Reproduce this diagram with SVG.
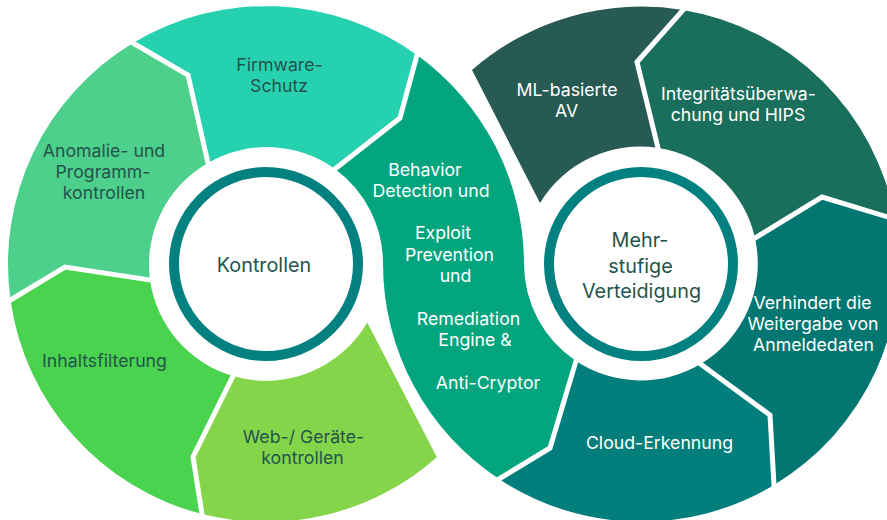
<svg xmlns="http://www.w3.org/2000/svg" width="887" height="520" viewBox="0 0 887 520">
  <style>
    .lbl { font-family: Inter, "Noto Sans", "Liberation Sans", sans-serif; font-size: 17.7px; text-anchor: middle; }
    .dark { fill: #24534b; }
    .light { fill: #ffffff; }
    .hub { fill: #ffffff; stroke: #028180; stroke-width: 10; }
    .hubtxt { font-family: Inter, "Noto Sans", "Liberation Sans", sans-serif; font-size: 19.8px; text-anchor: middle; fill: #24534b; }
    .sep { fill: none; stroke: #ffffff; stroke-width: 5; stroke-linecap: square; stroke-linejoin: miter; }
  </style>

  <rect width="887" height="520" fill="#ffffff"/>

  <!-- Left ring (centre 266,264): segments run clockwise -->
  <g id="web-geraete">
    <path fill="#84d54a" d="M367.3,322.5 L436.9,457.2 A258,258 0 0 1 202,514 L193,457 L233,376 A117,117 0 0 0 367.3,322.5 Z"/>
    <text class="lbl dark" x="303.5" y="443">Web-/ Geräte-</text>
    <text class="lbl dark" x="302.5" y="464">kontrollen</text>
  </g>
  <g id="inhaltsfilterung">
    <path fill="#4ad34e" d="M202,514 A258,258 0 0 1 10.5,300 L65,267 L150,280 A117,117 0 0 0 233,376 L193,457 Z"/>
    <text class="lbl dark" x="104.5" y="367">Inhaltsfilterung</text>
  </g>
  <g id="anomalie">
    <path fill="#4dd08b" d="M10.5,300 A258,258 0 0 1 133,43 L188,75 L208,163 A117,117 0 0 0 150,280 L65,267 Z"/>
    <text class="lbl dark" x="104" y="157">Anomalie- und</text>
    <text class="lbl dark" x="103" y="178">Programm-</text>
    <text class="lbl dark" x="104" y="199">kontrollen</text>
  </g>
  <g id="firmware">
    <path fill="#26d1b0" d="M133,43 A258,258 0 0 1 417,55 L400,118 L335,169 A117,117 0 0 0 208,163 L188,75 Z"/>
    <text class="lbl dark" x="279.5" y="71">Firmware-</text>
    <text class="lbl dark" x="279" y="92">Schutz</text>
  </g>

  <!-- Shared S-shaped segment linking both rings -->
  <g id="behavior">
    <path fill="#02a57e" d="M417,55 A258,258 0 0 1 524,264 A117,117 0 0 0 576,361 L550,448 L499,479 A258,258 0 0 1 383,264 A117,117 0 0 0 335,169 L400,118 Z"/>
    <text class="lbl light" x="425" y="176">Behavior</text>
    <text class="lbl light" x="431" y="197">Detection und</text>
    <text class="lbl light" x="443" y="239">Exploit</text>
    <text class="lbl light" x="449.5" y="261">Prevention</text>
    <text class="lbl light" x="455.5" y="282">und</text>
    <text class="lbl light" x="468.5" y="325">Remediation</text>
    <text class="lbl light" x="475" y="346">Engine &amp;</text>
    <text class="lbl light" x="488" y="389">Anti-Cryptor</text>
  </g>

  <!-- Right ring (centre 641,264): segments run counter-clockwise -->
  <g id="cloud">
    <path fill="#027f7c" d="M774,485 A258,258 0 0 1 499,479 L550,448 L576,361 A117,117 0 0 0 700.5,364 L770,415 Z"/>
    <text class="lbl light" x="659.5" y="449">Cloud-Erkennung</text>
  </g>
  <g id="anmeldedaten">
    <path fill="#027670" d="M895.1,219.2 A258,258 0 0 1 774,485 L770,415 L700.5,364 A117,117 0 0 0 755,238 L822,197 Z"/>
    <text class="lbl light" x="812.5" y="309">Verhindert die</text>
    <text class="lbl light" x="813" y="330">Weitergabe von</text>
    <text class="lbl light" x="813.5" y="351">Anmeldedaten</text>
  </g>
  <g id="integritaet">
    <path fill="#1a6e5c" d="M683,10 A258,258 0 0 1 895.1,219.2 L822,197 L755,238 A117,117 0 0 0 658,148 L637,62 Z"/>
    <text class="lbl light" x="738.5" y="100">Integritätsüberwa-</text>
    <text class="lbl light" x="738" y="121">chung und HIPS</text>
  </g>
  <g id="ml-av">
    <path fill="#265a52" d="M472,70 A258,258 0 0 1 683,10 L637,62 L658,148 A117,117 0 0 0 540,203 Z"/>
    <text class="lbl light" x="567" y="96">ML-basierte</text>
    <text class="lbl light" x="566.5" y="117">AV</text>
  </g>

  <!-- White chevron separators between neighbouring segments -->
  <g id="separators">
    <polyline class="sep" points="202,514 193,457 233,376"/>
    <polyline class="sep" points="10.5,300 65,267 150,280"/>
    <polyline class="sep" points="133,43 188,75 208,163"/>
    <polyline class="sep" points="417,55 400,118 335,169"/>
    <polyline class="sep" points="683,10 637,62 658,148"/>
    <polyline class="sep" points="895.1,219.2 822,197 755,238"/>
    <polyline class="sep" points="774,485 770,415 700.5,364"/>
    <polyline class="sep" points="499,479 550,448 576,361"/>
  </g>

  <!-- Hubs -->
  <g id="hub-kontrollen">
    <circle class="hub" cx="266" cy="264" r="92"/>
    <text class="hubtxt" x="264" y="272">Kontrollen</text>
  </g>
  <g id="hub-verteidigung">
    <circle class="hub" cx="641" cy="264" r="92"/>
    <text class="hubtxt" x="640" y="247">Mehr-</text>
    <text class="hubtxt" x="640.5" y="273">stufige</text>
    <text class="hubtxt" x="641.5" y="298">Verteidigung</text>
  </g>
</svg>
